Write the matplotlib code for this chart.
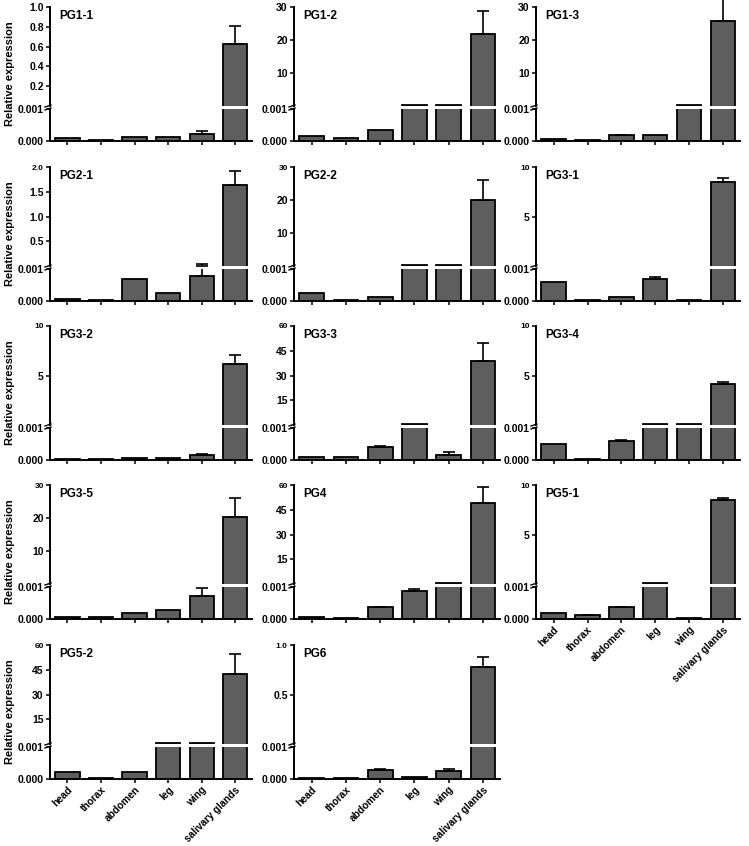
import numpy as np
import matplotlib
matplotlib.use('Agg')
from matplotlib import pyplot as plt
from matplotlib.lines import Line2D

plt.rcParams['font.family'] = ['Liberation Sans', 'DejaVu Sans']
plt.rcParams['font.weight'] = 'bold'


# --------------------------- DATA ---------------------------

tissues = ['head', 'thorax', 'abdomen', 'leg', 'wing', 'salivary glands']
genes = ['PG1-1', 'PG1-2', 'PG1-3', 'PG2-1', 'PG2-2', 'PG3-1', 'PG3-2',
         'PG3-3', 'PG3-4', 'PG3-5', 'PG4', 'PG5-1', 'PG5-2', 'PG6']

pg1_1 = [0.00008, 0.00004, 0.00012, 0.00013, 0.00023, 0.63]
pg1_1_err = [0, 0, 0, 0, 0.00007, 0.18]
pg1_2 = [0.00015, 0.00009, 0.00033, 0.4, 0.4, 21.8]
pg1_2_err = [0, 0, 0, 0, 0, 6.9]
pg1_3 = [0.00006, 0.00004, 0.00018, 0.0002, 0.4, 25.8]
pg1_3_err = [0, 0, 0.00002, 0, 0, 6.5]
pg2_1 = [0.00007, 0.00002, 0.00069, 0.00025, 0.00079, 1.63]
pg2_1_err = [0, 0, 0, 0, 0.04, 0.28]
pg2_2 = [0.00026, 0.00002, 0.00013, 0.4, 0.4, 20.0]
pg2_2_err = [0, 0, 0, 0, 0, 6.0]
pg3_1 = [0.0006, 0.00003, 0.00012, 0.00069, 0.00002, 8.5]
pg3_1_err = [0, 0, 0, 0.00005, 0, 0.35]
pg3_2 = [0.00003, 0.00002, 0.00007, 0.00007, 0.00016, 6.15]
pg3_2_err = [0, 0, 0, 0, 0.00003, 0.9]
pg3_3 = [0.0001, 0.00009, 0.00041, 0.8, 0.00015, 39.0]
pg3_3_err = [0, 0, 0.00002, 0, 0.00009, 11.0]
pg3_4 = [0.00049, 0.00003, 0.0006, 0.15, 0.15, 4.1]
pg3_4_err = [0, 0, 0.00003, 0, 0, 0.25]
pg3_5 = [0.00006, 0.00005, 0.0002, 0.00027, 0.00072, 20.4]
pg3_5_err = [0, 0, 0, 0, 0.00025, 5.7]
pg4 = [0.00005, 0.00002, 0.00037, 0.00088, 0.8, 49.0]
pg4_err = [0, 0, 0.00002, 0.00006, 0, 9.5]
pg5_1 = [0.0002, 0.00012, 0.00036, 0.15, 0.00002, 8.5]
pg5_1_err = [0, 0.00001, 0.00002, 0, 0, 0.15]
pg5_2 = [0.00022, 0.00002, 0.00022, 0.8, 0.8, 42.4]
pg5_2_err = [0, 0, 0, 0, 0, 12.3]
pg6 = [0.00002, 0.00002, 0.00028, 0.00006, 0.00025, 0.78]
pg6_err = [0, 0, 0.00002, 0, 0.00005, 0.1]

means = [pg1_1, pg1_2, pg1_3, pg2_1, pg2_2, pg3_1, pg3_2,
         pg3_3, pg3_4, pg3_5, pg4, pg5_1, pg5_2, pg6]
errors = [pg1_1_err, pg1_2_err, pg1_3_err, pg2_1_err, pg2_2_err, pg3_1_err, pg3_2_err,
          pg3_3_err, pg3_4_err, pg3_5_err, pg4_err, pg5_1_err, pg5_2_err, pg6_err]

upper_ticks = [[0.2, 0.4, 0.6, 0.8, 1.0], [10, 20, 30], [10, 20, 30],
               [0.5, 1.0, 1.5, 2.0], [10, 20, 30], [5, 10], [5, 10],
               [15, 30, 45, 60], [5, 10], [10, 20, 30], [15, 30, 45, 60],
               [5, 10], [15, 30, 45, 60], [0.5, 1.0]]

BREAK = 0.001


# --------------------------- LAYOUT ---------------------------

W, H = 749, 846
fig = plt.figure(figsize=(W / 100, H / 100), dpi=100)

row_top = [7, 167, 326, 485, 645]
col_left = [50, 294, 536]
col_right = [252, 500, 740]
labelled = {11, 12, 13}

bar_color = '#5e5e5e'
lw = 1.4


def px_axes(left, top, width, height):
    return fig.add_axes([left / W, 1 - (top + height) / H, width / W, height / H])


def style(ax, size=7.5):
    ax.spines['top'].set_visible(False)
    ax.spines['right'].set_visible(False)
    for s in ax.spines.values():
        s.set_linewidth(lw)
    ax.tick_params(direction='out', length=3, width=1.1, labelsize=size, pad=1.5)


def upper_err(ax, x, v, e):
    if e <= 0 or v + e <= BREAK:
        return
    y0 = max(v, BREAK)
    c = ax.errorbar(x, y0, yerr=[[0], [v + e - y0]], fmt='none', ecolor='black',
                    elinewidth=1.2, capsize=4.5, capthick=1.2)
    for a in c.get_children():
        a.set_clip_on(False)


for i, gene in enumerate(genes):
    r, c = divmod(i, 3)
    T = row_top[r]
    l, rr = col_left[c], col_right[c]
    vals = np.array(means[i])
    errs = np.array(errors[i])
    ticks = upper_ticks[i]
    top = ticks[-1]
    x = np.arange(len(tissues))

    # --------------------------- lower segment 0 - 0.001 ---------------------------
    lo = px_axes(l, T + 102, rr - l, 32)
    lo.bar(x, vals, width=0.72, color=bar_color, edgecolor='black', linewidth=1.3)
    for k in range(len(x)):
        if errs[k] > 0 and vals[k] < BREAK:
            lo.errorbar(x[k], vals[k], yerr=[[0], [errs[k]]], fmt='none', ecolor='black',
                        elinewidth=1.2, capsize=4.5, capthick=1.2)
    lo.set_ylim(0, BREAK)
    lo.set_xlim(-0.52, 5.5)
    lo.set_yticks([0, BREAK])
    lo.set_yticklabels(['0.000', '0.001'])
    lo.set_xticks(x)
    style(lo)
    if i in labelled:
        lo.set_xticklabels(tissues, rotation=45, ha='right', rotation_mode='anchor',
                           fontsize=7.3, fontweight='bold')
        lo.tick_params(axis='x', pad=1)
    else:
        lo.set_xticklabels([])

    # --------------------------- upper segment 0.001 - top ---------------------------
    up = px_axes(l, T, rr - l, 99)
    # bars below the break are not drawn here; the rest start well below the clip
    heights = np.where(vals > BREAK, vals + top, 0)
    up.bar(x, heights, bottom=-top, width=0.72, color=bar_color,
           edgecolor='black', linewidth=1.3)
    for k in range(len(x)):
        upper_err(up, x[k], vals[k], errs[k])
    up.set_ylim(BREAK, top)
    up.set_xlim(-0.52, 5.5)
    up.set_xticks([])
    up.spines['bottom'].set_visible(False)
    up.set_yticks(ticks)
    if top < 5:
        up.set_yticklabels(['%.1f' % t for t in ticks])
    else:
        up.set_yticklabels(['%d' % t for t in ticks])
    style(up)
    if r > 0:
        up.get_yticklabels()[-1].set_fontsize(6)

    # break marks on the y axis
    for yb in (T + 99, T + 102):
        fig.add_artist(Line2D([(l - 5) / W, (l + 1) / W],
                              [1 - (yb + 1) / H, 1 - (yb - 1) / H],
                              transform=fig.transFigure, color='black', lw=1.0))

    fig.text((l + 9) / W, 1 - (T + 9) / H, gene, fontsize=8.5, fontweight='bold',
             va='center', ha='left')

    if c == 0:
        fig.text(10 / W, 1 - (T + 67) / H, 'Relative expression', rotation=90,
                 fontsize=8, fontweight='bold', va='center', ha='center')


fig.savefig('out.png', dpi=100, facecolor='white')
